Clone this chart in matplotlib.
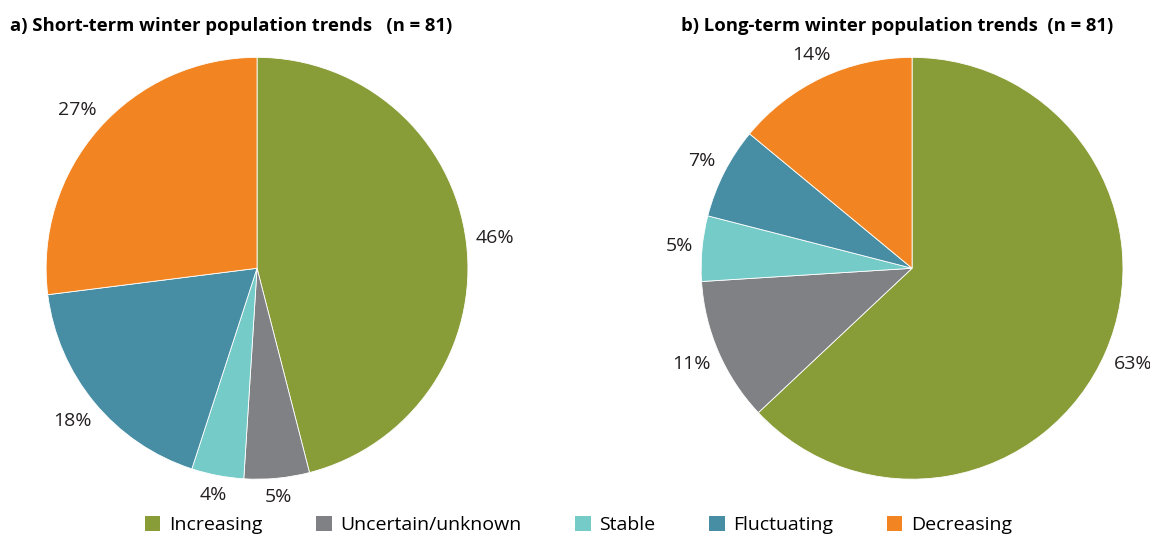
import numpy as np
import matplotlib; matplotlib.use("Agg")
import matplotlib.pyplot as plt
from matplotlib.patches import Patch

plt.rcParams["font.family"] = ["Open Sans", "DejaVu Sans"]

categories = ["Increasing", "Uncertain/unknown", "Stable", "Fluctuating", "Decreasing"]
short_term = [46, 5, 4, 18, 27]
long_term = [63, 11, 5, 7, 14]
colors = ["#889c38", "#808184", "#74cbc8", "#478ea5", "#f28522"]

titles = ["a) Short-term winter population trends   (n = 81)",
          "b) Long-term winter population trends  (n = 81)"]

fig = plt.figure(figsize=(11.5, 5.36), dpi=100)
ax1 = fig.add_axes([0.040, 0.106, 0.367, 0.787])
ax2 = fig.add_axes([0.6096, 0.106, 0.367, 0.787])
renderer = fig.canvas.get_renderer()


def outside_labels(ax, wedges, vals, gap=1.04):
    # label box sits just outside the rim, like "outside end" labels
    for w, v in zip(wedges, vals):
        ang = np.deg2rad((w.theta1 + w.theta2) / 2)
        t = ax.text(0, 0, f"{v}%", fontsize=14, color="#231f20", ha="center", va="center")
        bb = t.get_window_extent(renderer).transformed(ax.transData.inverted())
        hw, hh = bb.width / 2, bb.height / 2
        d = gap + abs(np.cos(ang)) * hw + abs(np.sin(ang)) * hh
        t.set_position((d * np.cos(ang), d * np.sin(ang)))


for ax, vals in [(ax1, short_term), (ax2, long_term)]:
    wedges, _ = ax.pie(vals, colors=colors, startangle=90, counterclock=False,
                       wedgeprops=dict(edgecolor="white", linewidth=0.6))
    ax.set_xlim(-1, 1)
    ax.set_ylim(-1, 1)
    ax.set_aspect("equal")
    outside_labels(ax, wedges, vals)

fig.text(0.009, 0.951, titles[0], fontsize=13.3, fontweight="bold", ha="left", va="center")
fig.text(0.592, 0.951, titles[1], fontsize=13.3, fontweight="bold", ha="left", va="center")

handles = [Patch(facecolor=c, edgecolor="none") for c in colors]
fig.legend(handles, categories, ncol=5, loc="center", bbox_to_anchor=(0.503, 0.021),
           frameon=False, fontsize=14, handlelength=0.8, handleheight=0.8,
           handletextpad=0.45, columnspacing=2.75, borderpad=0.1)

fig.savefig("out.png", dpi=100)
